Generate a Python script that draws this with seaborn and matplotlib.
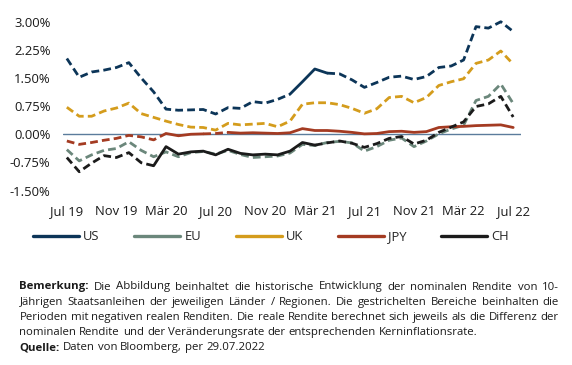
import matplotlib
matplotlib.use("Agg")
import matplotlib.pyplot as plt
from matplotlib.lines import Line2D
import seaborn as sns
import pandas as pd

# ---------------- data ----------------
month_index = list(range(37))  # Jul 2019 ... Jul 2022, monthly
tick_positions = [0, 4, 8, 12, 16, 20, 24, 28, 32, 36]
tick_labels = ["Jul 19", "Nov 19", "Mär 20", "Jul 20", "Nov 20",
               "Mär 21", "Jul 21", "Nov 21", "Mär 22", "Jul 22"]

us = [2.02, 1.52, 1.66, 1.71, 1.78, 1.91, 1.50, 1.13, 0.67, 0.64, 0.65, 0.66, 0.54,
      0.71, 0.69, 0.87, 0.83, 0.93, 1.07, 1.40, 1.74, 1.63, 1.61, 1.45, 1.25, 1.38,
      1.52, 1.55, 1.46, 1.54, 1.78, 1.82, 1.98, 2.87, 2.83, 3.00, 2.74]
eu = [-0.41, -0.71, -0.55, -0.43, -0.38, -0.20, -0.43, -0.60, -0.47, -0.60, -0.49,
      -0.46, -0.53, -0.43, -0.54, -0.62, -0.60, -0.58, -0.50, -0.27, -0.30, -0.22,
      -0.19, -0.23, -0.45, -0.33, -0.16, -0.10, -0.33, -0.18, 0.01, 0.14, 0.24,
      0.90, 1.01, 1.34, 0.82]
uk = [0.72, 0.48, 0.48, 0.62, 0.70, 0.83, 0.55, 0.45, 0.35, 0.26, 0.19, 0.18, 0.11,
      0.29, 0.25, 0.27, 0.29, 0.20, 0.35, 0.80, 0.84, 0.84, 0.79, 0.69, 0.56, 0.68,
      0.98, 1.01, 0.84, 0.98, 1.30, 1.40, 1.48, 1.89, 1.98, 2.22, 1.87]
jpy = [-0.18, -0.27, -0.22, -0.16, -0.11, -0.03, -0.07, -0.15, 0.02, -0.04, 0.00,
       0.01, 0.02, 0.05, 0.03, 0.04, 0.03, 0.02, 0.04, 0.15, 0.10, 0.10, 0.08, 0.05,
       0.01, 0.02, 0.07, 0.08, 0.05, 0.07, 0.18, 0.20, 0.21, 0.23, 0.24, 0.25, 0.18]
ch = [-0.62, -1.00, -0.77, -0.57, -0.62, -0.49, -0.76, -0.84, -0.33, -0.53, -0.47,
      -0.45, -0.55, -0.40, -0.51, -0.55, -0.53, -0.55, -0.45, -0.22, -0.29, -0.23,
      -0.18, -0.24, -0.35, -0.25, -0.11, -0.06, -0.26, -0.16, 0.05, 0.19, 0.33,
      0.74, 0.81, 1.01, 0.46]

# periods (month index ranges) with positive real yields -> solid; rest dashed
us_positive = [(18, 21)]
eu_positive = []
uk_positive = []
jpy_positive = [(8, 11), (13, 36)]
ch_positive = [(7, 20)]

series_names = ["US", "EU", "UK", "JPY", "CH"]
y_ticks = [3.0, 2.25, 1.5, 0.75, 0.0, -0.75, -1.5]

# ---------------- style ----------------
sns.set_theme(style="white")
plt.rcParams["font.family"] = ["Open Sans", "DejaVu Sans"]

colors = {"US": "#0C3558", "EU": "#6B877B", "UK": "#D49C1C",
          "JPY": "#A43B22", "CH": "#1B1B1B"}
values = {"US": us, "EU": eu, "UK": uk, "JPY": jpy, "CH": ch}
positive = {"US": us_positive, "EU": eu_positive, "UK": uk_positive,
            "JPY": jpy_positive, "CH": ch_positive}

W, H = 572, 365
fig = plt.figure(figsize=(W / 100, H / 100), dpi=100)
ax = fig.add_axes([63 / W, 1 - 198 / H, 458 / W, 183 / H])

ax.axhline(0, color="#5B7C9C", lw=1.0, zorder=1)

LW = 2.0
DASH = (0, (2.8, 1.5))


def segment_solid(i, ranges):
    return any(a <= i < b for a, b in ranges)


for name in ["US", "EU", "UK", "JPY", "CH"]:
    vals = values[name]
    n = len(vals)
    styles = [segment_solid(i, positive[name]) for i in range(n - 1)]
    start = 0
    while start < n - 1:
        end = start
        while end + 1 < n - 1 and styles[end + 1] == styles[start]:
            end += 1
        df = pd.DataFrame({"m": month_index[start:end + 2], "v": vals[start:end + 2]})
        sns.lineplot(data=df, x="m", y="v", ax=ax, color=colors[name], lw=LW,
                     linestyle="-" if styles[start] else DASH, zorder=3)
        start = end + 1

ax.set_xlim(-0.31, 36.63)
ax.set_ylim(-1.70, 3.18)
ax.set_xticks(tick_positions)
ax.set_xticklabels(tick_labels)
ax.set_yticks(y_ticks)
ax.set_yticklabels([f"{t:.2f}%" for t in y_ticks])
ax.set_xlabel("")
ax.set_ylabel("")
for s in ax.spines.values():
    s.set_visible(False)
ax.tick_params(axis="both", length=0, labelsize=9.4, colors="#1a1a1a")
ax.tick_params(axis="x", pad=5)
ax.tick_params(axis="y", pad=9)
ax.grid(False)

handles = [Line2D([0], [0], color=colors[nm], lw=2.4, solid_capstyle="round")
           for nm in series_names]
fig.legend(handles, series_names, loc="center left",
           bbox_to_anchor=(33 / W, 1 - 237 / H), ncol=5, frameon=False,
           fontsize=9.4, handlelength=3.5, handletextpad=0.35,
           columnspacing=2.65, borderaxespad=0, borderpad=0)

# ---------------- footnote (justified lines) ----------------
foot_lines = [
    ([("Bemerkung:", True)] + [(w, False) for w in
      "Die Abbildung beinhaltet die historische Entwicklung der nominalen Rendite von 10-".split()], True),
    ([(w, False) for w in
      "Jährigen Staatsanleihen der jeweiligen Länder / Regionen. Die gestrichelten Bereiche beinhalten die".split()], True),
    ([(w, False) for w in
      "Perioden mit negativen realen Renditen. Die reale Rendite berechnet sich jeweils als die Differenz der".split()], True),
    ([(w, False) for w in
      "nominalen Rendite und der Veränderungsrate der entsprechenden Kerninflationsrate.".split()], False),
    ([("Quelle:", True)] + [(w, False) for w in
      "Daten von Bloomberg, per 29.07.2022".split()], False),
]

renderer = fig.canvas.get_renderer()
x0, x1 = 19.5, 559.0


def measure(s, fs, bold=False):
    t = fig.text(0, 0, s, fontsize=fs, fontweight="bold" if bold else "normal")
    w = t.get_window_extent(renderer).width
    t.remove()
    return w


# fit font size so the longest justified line has natural word spacing
base_fs = 10.0
sp10 = measure("x x", base_fs) - measure("xx", base_fs)
nat = []
for words, justify in foot_lines:
    if justify:
        nat.append(sum(measure(w, base_fs, b) for w, b in words) + sp10 * (len(words) - 1))
FS = base_fs * (x1 - x0) * 0.995 / max(nat)
space_w = measure("x x", FS) - measure("xx", FS)

base0, step = 289.5, 15.2
for li, (words, justify) in enumerate(foot_lines):
    y = 1 - (base0 + li * step) / H
    objs = []
    widths = []
    for w, bold in words:
        t = fig.text(0, y, w, fontsize=FS, fontweight="bold" if bold else "normal",
                     color="#1a1a1a", va="baseline", ha="left")
        objs.append(t)
        widths.append(t.get_window_extent(renderer).width)
    if justify and len(words) > 1:
        gap = (x1 - x0 - sum(widths)) / (len(words) - 1)
    else:
        gap = space_w
    x = x0
    for t, wd in zip(objs, widths):
        t.set_x(x / W)
        x += wd + gap

fig.savefig("out.png", dpi=100)
